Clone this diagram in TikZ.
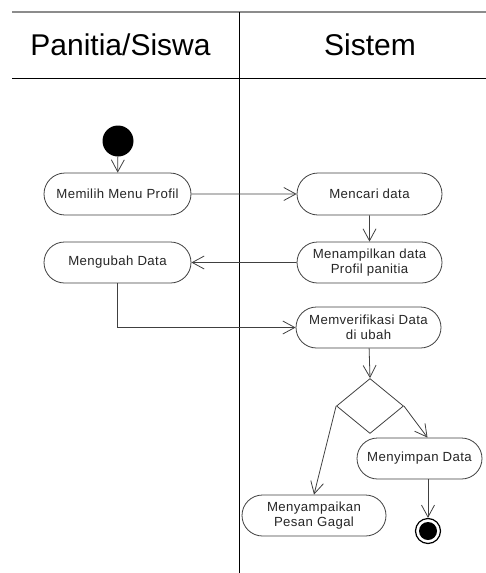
\documentclass[tikz,border=0pt]{standalone}
\usepackage{fontspec}
\setmainfont{Liberation Sans}
\usetikzlibrary{arrows.meta,shapes.geometric,shapes.misc}
\begin{document}
\begin{tikzpicture}[x=1pt,y=-1pt,
  act/.style={draw=black!75, line width=0.8pt, rounded rectangle, minimum height=41pt, align=center,
    font=\addfontfeatures{LetterSpace=3}\fontsize{13.2}{15.5}\selectfont, text=black!85, inner sep=1pt, fill=white},
  flow/.style={draw=black!75, line width=0.8pt, -{Straight Barb[length=12pt,width=13pt]}},
  lane/.style={draw=black, line width=0.9pt},
  hdr/.style={font=\fontsize{30}{32}\selectfont, anchor=base}]
\useasboundingbox (0,0) rectangle (486,573);
% swimlanes
\draw[draw=black!45, line width=1.4pt] (12,12) -- (486,12);
\draw[lane] (12,78) -- (486,78);
\draw[lane] (239,12) -- (239,573);
\node[hdr] (h1) at (120.5,55) {Panitia/Siswa};
\node[hdr] (h2) at (370,55) {Sistem};
% nodes
\node[circle, fill=black, minimum size=31pt, inner sep=0pt] (start) at (118,141) {};
\node[act, minimum width=149pt, minimum height=42pt] (memilih) at (117.5,194) {Memilih Menu Profil};
\node[act, minimum width=147pt, minimum height=42pt] (mencari) at (369.5,194) {Mencari data};
\node[act, minimum width=147pt] (tampil) at (369.5,262.5) {Menampilkan data\\Profil panitia};
\node[act, minimum width=149pt] (ubah) at (117.5,262.5) {Mengubah Data};
\node[act, minimum width=147pt] (verif) at (368.5,327.5) {Memverifikasi Data\\di ubah};
\node[diamond, draw=black!75, line width=0.8pt, minimum width=67pt, minimum height=55pt, inner sep=0pt] (dec) at (370,406) {};
\node[act, minimum width=146pt] (gagal) at (314,515.5) {Menyampaikan\\Pesan Gagal};
\node[act, minimum width=127pt] (simpan) at (419.5,458.5) {Menyimpan Data};
\node[circle, draw=black, line width=1.2pt, minimum size=25pt, inner sep=0pt] (end) at (428,531) {};
\node[circle, fill=black, minimum size=18pt, inner sep=0pt] (endin) at (428,531) {};
% connectors
\draw[flow] (start) -- (memilih);
\draw[flow] (memilih) -- (mencari);
\draw[flow] (mencari) -- (tampil);
\draw[flow] (tampil) -- (ubah);
\draw[flow] (ubah.south) |- (verif.west);
\draw[flow] (verif) -- (dec.north);
\draw[flow] (dec.west) -- (gagal.north);
\draw[flow] (dec.east) -- ([xshift=8pt]simpan.north);
\draw[flow] ([xshift=8.5pt]simpan.south) -- (end.north);
\end{tikzpicture}
\end{document}
